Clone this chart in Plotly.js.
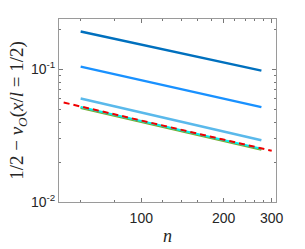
<!DOCTYPE html>
<html>
<head>
<meta charset="utf-8">
<script src="https://cdn.plot.ly/plotly-3.0.1.min.js"></script>
<style>html,body{margin:0;padding:0;background:#fff;}#chart{width:305px;height:249px;}</style>
</head>
<body>
<div id="chart"></div>
<script>
// Data
const nSim = [60, 275];
const seriesA = [0.192, 0.0976];
const seriesB = [0.1046, 0.0518];
const seriesC = [0.0601, 0.0292];
const seriesD = [0.0512, 0.0248];
const seriesE = [0.0519, 0.0252];
const nFit = [52, 300];
const fitVals = [0.0561, 0.0243];

const xTickVals = [100, 200, 300];
const xTickText = ['100', '200', '300'];
const xMinorVals = [60, 80, 120, 140, 160, 180, 220, 240, 260, 280];
const yTickVals = [0.01, 0.1];
const yTickText = ['10<sup>-2</sup>', '10<sup>-1</sup>'];
const yMinorVals = [0.02,0.03,0.04,0.05,0.06,0.07,0.08,0.09,0.2];

const traces = [
  {x: nSim, y: seriesA, mode: 'lines', line: {color: 'rgb(0,112,190)', width: 2.5}},
  {x: nSim, y: seriesB, mode: 'lines', line: {color: 'rgb(25,145,255)', width: 2.5}},
  {x: nSim, y: seriesC, mode: 'lines', line: {color: 'rgb(90,185,235)', width: 2.5}},
  {x: nSim, y: seriesD, mode: 'lines', line: {color: 'rgb(119,172,48)', width: 2.5}},
  {x: nSim, y: seriesE, mode: 'lines', line: {color: 'rgb(0,240,240)', width: 2}},
  {x: nFit, y: fitVals, mode: 'lines', line: {color: 'rgb(240,0,0)', width: 2, dash: '6px,4px'}}
];

const axisCommon = {
  showgrid: false, zeroline: false, showline: true, mirror: 'ticks',
  linecolor: '#9a9a9a', linewidth: 1, ticks: 'inside', ticklen: 4,
  tickcolor: '#777', tickfont: {family: 'Liberation Sans, Arial, sans-serif', size: 14, color: '#262626'}
};

const layout = {
  width: 305, height: 249,
  margin: {l: 59, r: 29, t: 19, b: 47},
  paper_bgcolor: '#fff', plot_bgcolor: '#fff',
  showlegend: false,
  xaxis: Object.assign({}, axisCommon, {
    type: 'log', range: [Math.log10(50), Math.log10(311)],
    tickmode: 'array', tickvals: xTickVals, ticktext: xTickText,
    ticklabelstandoff: 3,
    minor: {tickmode: 'array', tickvals: xMinorVals, ticks: 'inside', ticklen: 2, tickcolor: '#777', showgrid: false},
    title: {text: '<i>n</i>', font: {family: 'Liberation Serif, DejaVu Serif, serif', size: 18, color: '#262626'}, standoff: 4}
  }),
  yaxis: Object.assign({}, axisCommon, {
    type: 'log', range: [-2, -0.622],
    tickmode: 'array', tickvals: yTickVals, ticktext: yTickText,
    minor: {tickmode: 'array', tickvals: yMinorVals, ticks: 'inside', ticklen: 2, tickcolor: '#777', showgrid: false},
    title: {text: '1/2 − <i>v</i><sub><i>O</i></sub>(<i>x</i>/<i>l</i> = 1/2)', font: {family: 'Liberation Serif, DejaVu Serif, serif', size: 19, color: '#262626'}, standoff: 2}
  })
};

Plotly.newPlot('chart', traces, layout, {displayModeBar: false, staticPlot: true});
</script>
</body>
</html>
